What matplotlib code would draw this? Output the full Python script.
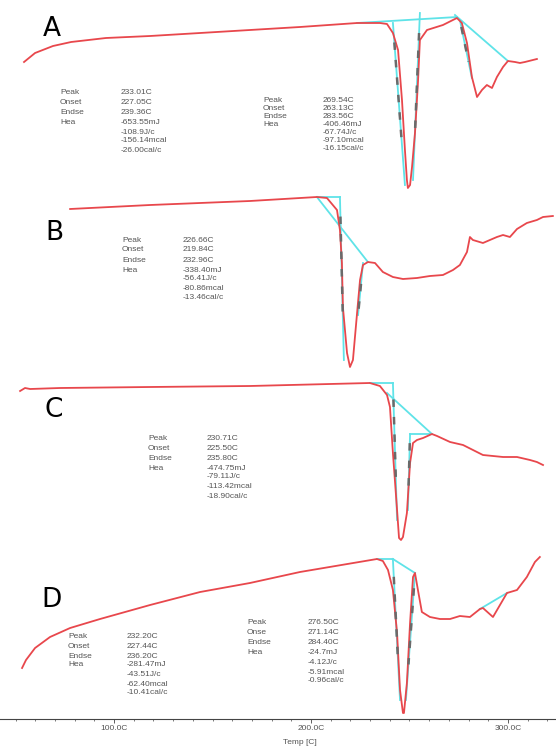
import numpy as np
import matplotlib
matplotlib.use("Agg")
import matplotlib.pyplot as plt

# ---- data (temperature in C, heat flow in arbitrary units relative to each baseline)
temp_a = [54.3, 59.9, 69.0, 78.2, 95.9, 118.3, 143.7, 169.0, 194.4, 223.4, 235.0, 238.6,
          241.6, 244.2, 246.2, 247.7, 248.7, 249.2, 250.3, 251.3, 252.8, 254.3, 255.3,
          258.9, 267.0, 274.1, 276.6, 279.2, 281.7, 284.3, 286.8, 289.3, 291.9, 294.4,
          297.5, 300.0, 303.6, 306.1, 308.6, 314.7]
hf_a = [-3.9, -3.0, -2.3, -1.9, -1.5, -1.3, -1.0, -0.7, -0.4, 0.0, 0.0, -0.1,
        -1.0, -2.7, -7.7, -12.7, -15.7, -16.5, -16.2, -14.4, -11.0, -6.0, -1.7,
        -0.7, -0.2, 0.5, 0.0, -2.0, -5.4, -7.4, -6.7, -6.2, -6.5, -5.4,
        -4.4, -3.8, -3.9, -4.0, -3.9, -3.6]

temp_b = [77.7, 118.3, 169.0, 203.0, 208.1, 213.2, 214.7, 215.7, 216.2, 218.3, 219.8,
          221.3, 223.4, 224.9, 226.4, 228.9, 232.5, 236.5, 241.6, 246.7, 253.8, 260.4,
          267.0, 272.1, 275.6, 279.2, 280.7, 282.2, 287.3, 294.4, 297.5, 301.0, 304.6,
          309.6, 314.7, 317.8, 322.8]
hf_b = [-1.2, -0.8, -0.4, 0.0, -0.1, -1.3, -3.3, -6.6, -11.0, -15.6, -17.0,
        -16.3, -11.6, -8.3, -6.8, -6.5, -6.6, -7.5, -8.0, -8.2, -8.1, -7.9,
        -7.8, -7.3, -6.8, -5.5, -4.0, -4.3, -4.6, -4.0, -3.8, -4.0, -3.2,
        -2.6, -2.3, -2.0, -1.9]

temp_c = [52.3, 54.8, 57.4, 72.6, 118.3, 169.0, 229.9, 235.0, 238.6, 240.1, 241.6,
          243.7, 244.7, 245.7, 246.7, 248.7, 250.3, 251.8, 253.8, 256.9, 261.4, 264.0,
          270.6, 277.2, 287.3, 297.5, 304.6, 311.2, 314.7, 317.8]
hf_c = [-0.8, -0.5, -0.6, -0.5, -0.4, -0.3, 0.0, -0.3, -1.2, -2.4, -7.0,
        -12.7, -15.5, -15.7, -15.4, -13.0, -8.0, -6.0, -5.7, -5.5, -5.1, -5.3,
        -5.9, -6.2, -7.2, -7.4, -7.4, -7.7, -7.9, -8.2]

temp_d = [53.3, 55.3, 59.9, 67.5, 77.7, 92.9, 118.3, 143.7, 169.0, 194.4, 233.5, 236.5,
          239.1, 241.6, 243.7, 245.2, 246.7, 247.2, 248.7, 250.3, 251.8, 252.8, 254.3,
          256.3, 260.4, 265.5, 270.6, 275.6, 280.7, 285.8, 287.3, 292.4, 299.5, 304.6,
          309.6, 313.7, 316.2]
hf_d = [-10.9, -10.1, -8.9, -7.8, -6.9, -6.0, -4.6, -3.3, -2.4, -1.3, 0.0, -0.2,
        -1.1, -3.1, -7.4, -13.1, -15.4, -15.4, -12.4, -6.4, -1.8, -1.4, -3.1,
        -5.3, -5.8, -6.0, -6.0, -5.7, -5.8, -5.0, -4.9, -5.8, -3.4, -3.1,
        -1.8, -0.3, 0.2]

offsets = [69.6, 52.2, 33.6, 16.0]
panel_labels = ["A", "B", "C", "D"]

# tangent / baseline construction lines (temp0, hf0, temp1, hf1)
tangents_a = [(223.4, 0.0, 274.1, 0.6), (241.6, 0.0, 247.7, -16.2), (255.3, 1.0, 251.8, -15.7),
              (273.1, 0.8, 300.0, -3.8), (275.6, 0.3, 281.7, -5.5)]
tangents_b = [(203.0, 0.0, 214.7, 0.0), (214.7, 0.0, 216.7, -16.3), (203.0, 0.0, 228.9, -6.5),
              (223.9, -11.8, 226.4, -6.6)]
tangents_c = [(229.9, 0.0, 241.6, 0.0), (241.6, 0.0, 243.7, -13.7), (238.6, -1.0, 261.4, -5.1),
              (250.3, -5.1, 261.4, -5.1), (250.3, -5.1, 249.2, -12.7)]
tangents_d = [(233.5, 0.0, 241.6, 0.0), (241.6, 0.0, 252.8, -1.4), (241.6, -0.1, 245.2, -14.1),
              (252.8, -1.4, 248.2, -14.1), (285.8, -5.0, 299.5, -3.4)]

# which tangents carry the grey dashes (index into tangent list)
dashed_a = [1, 2, 4]
dashed_b = [1, 3]
dashed_c = [1, 4]
dashed_d = [2, 3]

row_names = ["Peak", "Onset", "Endse", "Hea", "", "", ""]
row_names_d2 = ["Peak", "Onse", "Endse", "Hea", "", "", ""]
vals_a1 = ["233.01C", "227.05C", "239.36C", "-653.55mJ", "-108.9J/c", "-156.14mcal", "-26.00cal/c"]
vals_a2 = ["269.54C", "263.13C", "283.56C", "-406.46mJ", "-67.74J/c", "-97.10mcal", "-16.15cal/c"]
vals_b = ["226.66C", "219.84C", "232.96C", "-338.40mJ", "-56.41J/c", "-80.86mcal", "-13.46cal/c"]
vals_c = ["230.71C", "225.50C", "235.80C", "-474.75mJ", "-79.11J/c", "-113.42mcal", "-18.90cal/c"]
vals_d1 = ["232.20C", "227.44C", "236.20C", "-281.47mJ", "-43.51J/c", "-62.40mcal", "-10.41cal/c"]
vals_d2 = ["276.50C", "271.14C", "284.40C", "-24.7mJ", "-4.12J/c", "-5.91mcal", "-0.96cal/c"]

tick_temps = [100, 200, 300]
tick_labels = ["100.0C", "200.0C", "300.0C"]

RED = "#e8474c"
CYAN = "#5fe3e8"
GREY = "#6a6a6a"
TXT = "#555555"

W, H = 556, 747
fig = plt.figure(figsize=(W / 100, H / 100), dpi=100)
ax = fig.add_axes([0, 28 / H, 1, 719 / H])
ax.set_xlim(42.1, 324.4)
ax.set_ylim(0, 71.9)

curves = [(temp_a, hf_a, tangents_a, dashed_a), (temp_b, hf_b, tangents_b, dashed_b),
          (temp_c, hf_c, tangents_c, dashed_c), (temp_d, hf_d, tangents_d, dashed_d)]

for (t, hf, tans, dsh), off in zip(curves, offsets):
    y = np.array(hf) + off
    for t0, h0, t1, h1 in tans:
        ax.plot([t0, t1], [h0 + off, h1 + off], color=CYAN, lw=1.3, zorder=2)
    ax.plot(t, y, color=RED, lw=1.3, zorder=3)
    for i in dsh:
        t0, h0, t1, h1 = tans[i]
        f = np.array([0.12, 0.72])
        ax.plot(t0 + f * (t1 - t0), h0 + off + f * (h1 - h0), color=GREY, lw=1.8,
                ls=(0, (3, 4)), zorder=4)

# panel letters
letter_pos = [(52, 29), (54, 233), (54, 410), (52, 600)]
for lab, (px, py) in zip(panel_labels, letter_pos):
    fig.text(px / W, 1 - py / H, lab, fontsize=19, family="DejaVu Sans",
             ha="center", va="center", color="black")

# annotation blocks: (names, values, label x, value x, row y list)
blocks = [
    (row_names, vals_a1, 60, 121, [93, 103, 113, 123, 132, 141, 150]),
    (row_names, vals_a2, 263, 323, [100, 108, 117, 125, 133, 141, 149]),
    (row_names, vals_b, 122, 183, [240, 250, 260, 270, 279, 288, 297]),
    (row_names, vals_c, 148, 207, [438, 448, 458, 468, 477, 487, 496]),
    (row_names, vals_d1, 68, 127, [636, 646, 656, 665, 674, 684, 693]),
    (row_names_d2, vals_d2, 247, 308, [622, 632, 643, 653, 663, 672, 681]),
]
for names, vals, lx, vx, rows in blocks:
    for nm, v, ry in zip(names, vals, rows):
        if nm:
            fig.text(lx / W, 1 - ry / H, nm, fontsize=6, family="Liberation Sans",
                     color=TXT, va="center", ha="left")
        fig.text(vx / W, 1 - ry / H, v, fontsize=6, family="Liberation Sans",
                 color=TXT, va="center", ha="left")

# x axis
for s in ["top", "left", "right"]:
    ax.spines[s].set_visible(False)
ax.spines["bottom"].set_color("#444444")
ax.spines["bottom"].set_linewidth(0.8)
ax.set_yticks([])
ax.set_xticks(tick_temps)
ax.set_xticklabels(tick_labels, fontsize=6, family="Liberation Sans", color=TXT)
ax.set_xticks(np.arange(50, 325, 10), minor=True)
ax.tick_params(axis="x", which="major", length=3, width=0.6, color="#444444", pad=1)
ax.tick_params(axis="x", which="minor", length=1.5, width=0.5, color="#444444")
fig.text(300 / W, 1 - 742 / H, "Temp [C]", fontsize=6, family="Liberation Sans",
         color=TXT, ha="center", va="center")

fig.savefig("out.png", dpi=100)
